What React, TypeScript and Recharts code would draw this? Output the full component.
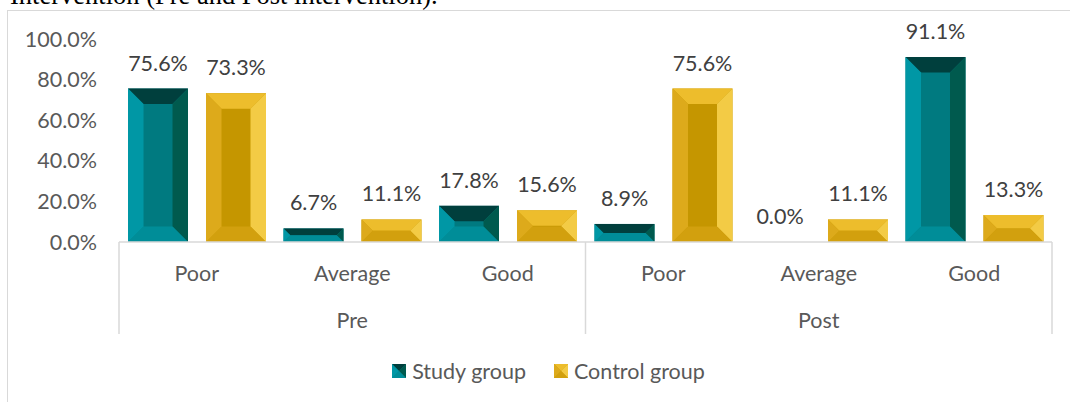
import React from 'react'
import { BarChart, Bar, XAxis, YAxis, LabelList } from 'recharts'

const phases = ['Pre', 'Pre', 'Pre', 'Post', 'Post', 'Post']
const levels = ['Poor', 'Average', 'Good', 'Poor', 'Average', 'Good']
const studyGroup = [75.6, 6.7, 17.8, 8.9, 0.0, 91.1]
const controlGroup = [73.3, 11.1, 15.6, 75.6, 11.1, 13.3]
const yTicks = [0, 20, 40, 60, 80, 100]

const data = levels.map((level, i) => ({
  key: `${phases[i]}-${level}`,
  level,
  phase: phases[i],
  study: studyGroup[i],
  control: controlGroup[i],
}))

const STUDY = { top: '#003F3D', right: '#005A4E', left: '#0097A5', bottom: '#008D98', face: '#007A80' }
const CONTROL = { top: '#EDBD2C', right: '#F3CB45', left: '#DDAA1B', bottom: '#D2A00E', face: '#C59600' }

const series = [
  { key: 'study', name: 'Study group', pal: STUDY },
  { key: 'control', name: 'Control group', pal: CONTROL },
]

const W = 1070
const H = 402
const MARGIN = { top: 39, right: 18, bottom: 60, left: 0 }
const Y_W = 119
const X_H = 100
const PLOT_W = W - MARGIN.left - MARGIN.right - Y_W
const FONT = 'Lato, sans-serif'
const FS = 21.5
const AXIS_GREY = '#D9D9D9'
const TEXT_GREY = '#595959'

type Pal = typeof STUDY

// bar with an Excel-like bevel: four sloped edges round a flat face
const Bevel = ({ x, y, width, height, pal, size = 15.5 }: any) => {
  if (!height || height <= 0 || !width) return null
  const p: Pal = pal
  const b = Math.min(size, width / 2, height / 2)
  const x2 = x + width
  const y2 = y + height
  const ix = x + b
  const ix2 = x2 - b
  const iy = y + b
  const iy2 = y2 - b
  return (
    <g>
      <rect x={x} y={y} width={width} height={height} fill={p.face} />
      <polygon points={`${x},${y} ${x2},${y} ${ix2},${iy} ${ix},${iy}`} fill={p.top} />
      <polygon points={`${x2},${y} ${x2},${y2} ${ix2},${iy2} ${ix2},${iy}`} fill={p.right} />
      <polygon points={`${x},${y2} ${x2},${y2} ${ix2},${iy2} ${ix},${iy2}`} fill={p.bottom} />
      <polygon points={`${x},${y} ${ix},${iy} ${ix},${iy2} ${x},${y2}`} fill={p.left} />
    </g>
  )
}

// two-level category axis: level under each band, phase under each group of three
const CategoryTick = (props: any) => {
  const { x, y, index } = props
  const band = PLOT_W / data.length
  const inGroup = index % 3
  return (
    <g>
      <text x={x} y={y + 39} textAnchor="middle" fill={TEXT_GREY} fontSize={FS} fontFamily={FONT}>
        {levels[index]}
      </text>
      {inGroup === 1 && (
        <text x={x} y={y + 86} textAnchor="middle" fill={TEXT_GREY} fontSize={FS} fontFamily={FONT}>
          {phases[index]}
        </text>
      )}
      {inGroup === 0 && (
        <line x1={x - band / 2} x2={x - band / 2} y1={y} y2={y + 92} stroke={AXIS_GREY} strokeWidth={1.5} />
      )}
      {index === data.length - 1 && (
        <line x1={x + band / 2} x2={x + band / 2} y1={y} y2={y + 92} stroke={AXIS_GREY} strokeWidth={1.5} />
      )}
    </g>
  )
}

const pct = (v: any) => `${Number(v).toFixed(1)}%`

export default function App() {
  return (
    <div
      style={{
        position: 'absolute',
        left: 0,
        top: 0,
        width: W,
        height: H,
        overflow: 'hidden',
        background: '#fff',
        fontFamily: FONT,
      }}
    >
      <div
        style={{
          position: 'absolute',
          left: 10,
          top: -18,
          fontFamily: '"Liberation Serif", serif',
          fontSize: 26.5,
          lineHeight: 1,
          whiteSpace: 'nowrap',
          color: '#000',
        }}
      >
        Intervention (Pre and Post intervention).
      </div>
      <div
        style={{
          position: 'absolute',
          left: 7,
          top: 10,
          width: 1200,
          height: 600,
          borderLeft: `1.5px solid ${AXIS_GREY}`,
          borderTop: `1.5px solid ${AXIS_GREY}`,
        }}
      />
      <div style={{ position: 'absolute', left: 0, top: 0 }}>
        <BarChart width={W} height={H} data={data} margin={MARGIN} barGap={18} barCategoryGap={9}>
          <YAxis
            width={Y_W}
            domain={[0, 100]}
            ticks={yTicks}
            tickFormatter={pct}
            axisLine={false}
            tickLine={false}
            tickSize={0}
            tickMargin={22}
            tick={{ fill: TEXT_GREY, fontSize: FS, fontFamily: FONT }}
          />
          <XAxis
            dataKey="key"
            height={X_H}
            interval={0}
            tickLine={false}
            tickSize={0}
            tickMargin={0}
            axisLine={{ stroke: AXIS_GREY, strokeWidth: 1.5 }}
            tick={<CategoryTick />}
          />
          {series.map((s) => (
            <Bar
              key={s.key}
              dataKey={s.key}
              name={s.name}
              isAnimationActive={false}
              shape={(p: any) => <Bevel {...p} pal={s.pal} />}
            >
              <LabelList
                dataKey={s.key}
                position="top"
                offset={18}
                formatter={pct}
                fill="#404040"
                fontSize={FS}
                fontFamily={FONT}
              />
            </Bar>
          ))}
        </BarChart>
      </div>
      <div
        style={{
          position: 'absolute',
          left: 0,
          top: 358,
          width: 1097,
          display: 'flex',
          justifyContent: 'center',
          gap: 28,
          fontSize: FS,
          color: TEXT_GREY,
        }}
      >
        {series.map((s) => (
          <div key={s.key} style={{ display: 'flex', alignItems: 'center' }}>
            <svg width={14} height={14}>
              <Bevel x={0} y={0} width={14} height={14} pal={s.pal} size={7} />
            </svg>
            <span style={{ marginLeft: 6 }}>{s.name}</span>
          </div>
        ))}
      </div>
    </div>
  )
}
